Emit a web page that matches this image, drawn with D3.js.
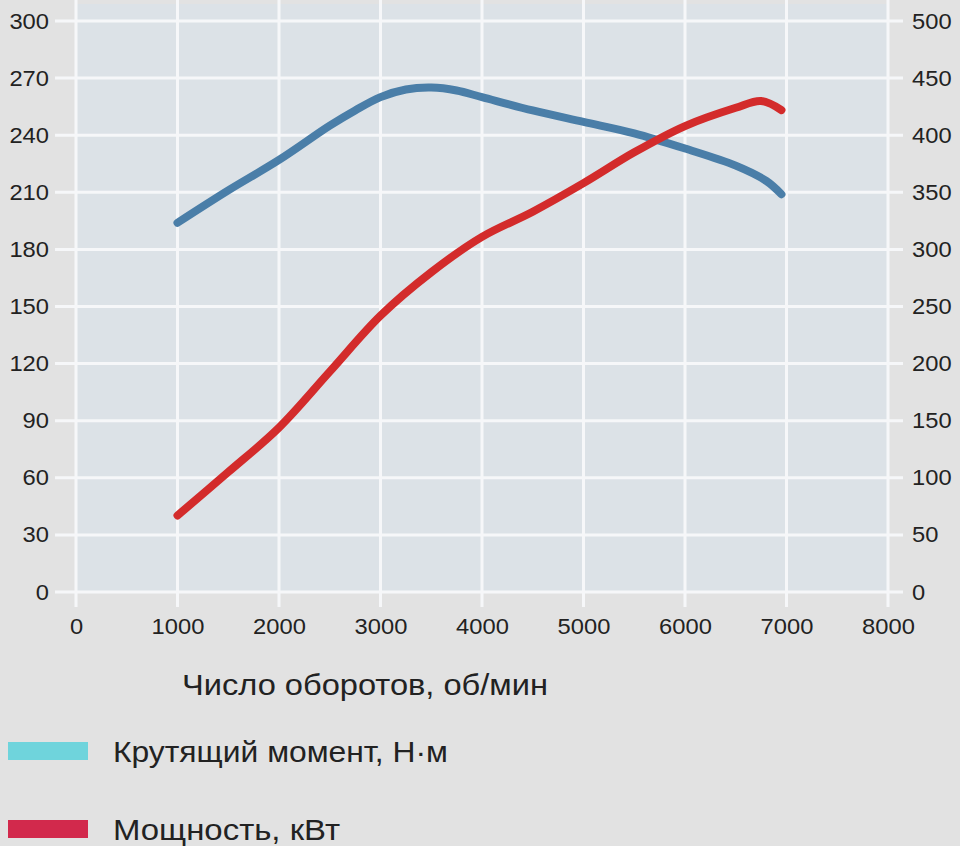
<!DOCTYPE html>
<html><head><meta charset="utf-8">
<script src="https://cdn.jsdelivr.net/npm/d3@7"></script>
<style>
html,body{margin:0;padding:0;background:#e2e2e2;}
svg{display:block;font-family:"Liberation Sans",Arial,sans-serif;}
</style></head>
<body><svg id="c" width="960" height="846"></svg>
<script>
const rpm = [1000,1500,2000,2500,2750,3000,3250,3500,3750,4000,4500,5000,5500,6000,6500,6800,6950];
const torque = [194,211,227,245,253,260,264,265,263.5,260,253,247,241,233,224,216,209];
const powerRpm = [1000,1500,2000,2500,3000,3500,4000,4500,5000,5500,6000,6500,6750,6950];
const power = [67,105,144,193,242,280,311,333,358,385,408,424,430,422];
const xTicks = [0,1000,2000,3000,4000,5000,6000,7000,8000];
const leftTicks = [0,30,60,90,120,150,180,210,240,270,300];
const rightTicks = [0,50,100,150,200,250,300,350,400,450,500];
const xTitle = "Число оборотов, об/мин";
const legendLabels = ["Крутящий момент, Н·м","Мощность, кВт"];

const svg = d3.select("#c");
const x = d3.scaleLinear().domain([0,8000]).range([76,888]);
const yL = d3.scaleLinear().domain([0,300]).range([592,21]);
const yR = d3.scaleLinear().domain([0,500]).range([592,21]);

svg.append("rect").attr("x",x(0)).attr("y",4).attr("width",x(8000)-x(0)).attr("height",yL(0)-4).attr("fill","#dce2e7");

// grid
svg.append("g").selectAll("line").data(leftTicks).join("line")
  .attr("x1",55).attr("x2",903).attr("y1",d=>yL(d)).attr("y2",d=>yL(d))
  .attr("stroke","#f6f7f9").attr("stroke-width",3);
svg.append("g").selectAll("line").data(xTicks).join("line")
  .attr("x1",d=>x(d)).attr("x2",d=>x(d)).attr("y1",0).attr("y2",607)
  .attr("stroke","#f6f7f9").attr("stroke-width",3);

// axes via d3 axis, restyled
const fs = "22px";
const gx = svg.append("g").attr("transform","translate(0,618)")
  .call(d3.axisBottom(x).tickValues(xTicks).tickSize(0).tickPadding(0).tickFormat(d3.format("d")));
const gl = svg.append("g").attr("transform","translate(49,0)")
  .call(d3.axisLeft(yL).tickValues(leftTicks).tickSize(0).tickPadding(0));
const gr = svg.append("g").attr("transform","translate(912,0)")
  .call(d3.axisRight(yR).tickValues(rightTicks).tickSize(0).tickPadding(0));
[gx,gl,gr].forEach(g=>{
  g.select(".domain").remove();
  g.selectAll("text").attr("font-size",fs).attr("fill","#222").attr("font-family","Liberation Sans, Arial, sans-serif")
    .attr("textLength",function(){return this.textContent.length*13.2;}).attr("lengthAdjust","spacingAndGlyphs");
});

// lines
const lineT = d3.line().x((d,i)=>x(rpm[i])).y(d=>yL(d)).curve(d3.curveCatmullRom.alpha(0.5));
const lineP = d3.line().x((d,i)=>x(powerRpm[i])).y(d=>yR(d)).curve(d3.curveCatmullRom.alpha(0.5));
svg.append("path").attr("d",lineT(torque)).attr("fill","none").attr("stroke","#4a7ea8")
  .attr("stroke-width",8).attr("stroke-linecap","round").attr("stroke-linejoin","round");
svg.append("path").attr("d",lineP(power)).attr("fill","none").attr("stroke","#d32b2b")
  .attr("stroke-width",8).attr("stroke-linecap","round").attr("stroke-linejoin","round");

// axis title
svg.append("text").attr("x",182).attr("y",695).attr("font-size","30px").attr("fill","#222")
  .attr("textLength",366).attr("lengthAdjust","spacingAndGlyphs").text(xTitle);

// legend
const legColors = ["#6fd4dc","#d2294c"];
const legY = [742,820];
const legW = [335,227];
legendLabels.forEach((t,i)=>{
  svg.append("rect").attr("x",8).attr("y",legY[i]).attr("width",80).attr("height",18).attr("fill",legColors[i]);
  svg.append("text").attr("x",113).attr("y",legY[i]+20).attr("font-size","30px").attr("fill","#222")
    .attr("textLength",legW[i]).attr("lengthAdjust","spacingAndGlyphs").text(t);
});
</script></body></html>
